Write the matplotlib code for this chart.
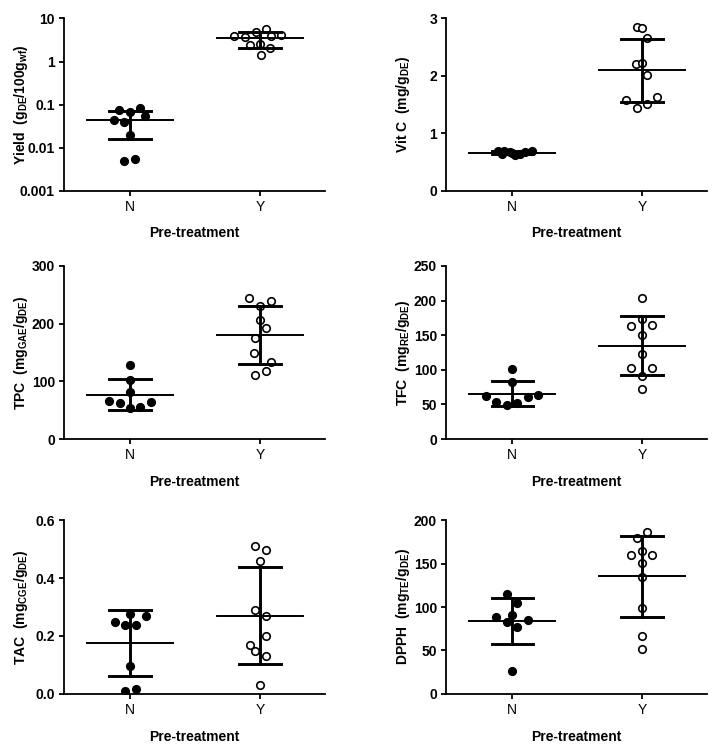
import matplotlib
matplotlib.use("Agg")
import matplotlib.pyplot as plt
from matplotlib.ticker import FixedLocator, FixedFormatter

plt.rcParams['font.family'] = ['Liberation Sans', 'DejaVu Sans']
plt.rcParams['mathtext.fontset'] = 'custom'
plt.rcParams['mathtext.rm'] = 'Liberation Sans'
plt.rcParams['mathtext.bf'] = 'Liberation Sans:bold'
plt.rcParams['mathtext.default'] = 'regular'

groups = ["N", "Y"]

# Yield (log axis)
yield_N = [0.0745, 0.083, 0.068, 0.0444, 0.039, 0.055, 0.0198, 0.0049, 0.0054]
yield_N_dx = [-0.083, 0.078, 0.0, -0.127, -0.047, 0.117, -0.005, -0.047, 0.036]
yield_Y = [3.95, 3.8, 4.9, 5.7, 3.95, 4.16, 2.48, 2.57, 2.07, 1.42]
yield_Y_dx = [-0.2, -0.117, -0.034, 0.047, 0.086, 0.164, -0.078, 0.0, 0.078, 0.005]
yield_mean = [0.0436, 3.48]
yield_lo = [0.016, 2.11]
yield_hi = [0.073, 4.8]

# Vit C
vitc_N = [0.70, 0.69, 0.67, 0.66, 0.62, 0.64, 0.68, 0.69, 0.65]
vitc_N_dx = [-0.11, -0.06, -0.02, 0.0, 0.02, 0.06, 0.1, 0.15, -0.08]
vitc_Y = [2.85, 2.84, 2.66, 2.2, 2.22, 2.02, 1.58, 1.63, 1.45, 1.52]
vitc_Y_dx = [-0.036, 0.0, 0.041, -0.044, 0.0, 0.041, -0.126, 0.115, -0.041, 0.041]
vitc_mean = [0.66, 2.1]
vitc_lo = [0.635, 1.55]
vitc_hi = [0.69, 2.64]

# TPC
tpc_N = [128.7, 102.1, 80.8, 66.3, 62.9, 64.0, 56.0, 53.1]
tpc_N_dx = [0.0, 0.0, 0.0, -0.162, -0.082, 0.159, 0.077, 0.0]
tpc_Y = [244.6, 238.8, 230.8, 207.1, 193.3, 176.0, 148.3, 133.3, 111.3, 118.3]
tpc_Y_dx = [-0.082, 0.082, 0.0, 0.0, 0.044, -0.038, -0.044, 0.082, -0.038, 0.044]
tpc_mean = [76.7, 180.0]
tpc_lo = [50.2, 129.8]
tpc_hi = [103.3, 230.8]

# TFC
tfc_N = [100.5, 82.2, 61.5, 53.8, 48.6, 52.4, 60.6, 63.0]
tfc_N_dx = [0.0, 0.0, -0.2, -0.126, -0.044, 0.038, 0.118, 0.197]
tfc_Y = [204.3, 173.1, 163.9, 164.9, 150.0, 123.1, 102.4, 102.4, 90.9, 71.6]
tfc_Y_dx = [0.0, 0.0, -0.082, 0.079, 0.0, 0.0, -0.082, 0.079, 0.0, 0.0]
tfc_mean = [65.4, 134.6]
tfc_lo = [48.1, 91.8]
tfc_hi = [83.2, 177.4]

# TAC
tac_N = [0.2775, 0.2695, 0.2488, 0.2384, 0.2384, 0.0979, 0.0184, 0.0092]
tac_N_dx = [0.0, 0.121, -0.121, -0.041, 0.041, 0.0, 0.041, -0.041]
tac_Y = [0.509, 0.4975, 0.458, 0.289, 0.268, 0.199, 0.169, 0.1486, 0.130, 0.030]
tac_Y_dx = [-0.038, 0.044, 0.0, -0.038, 0.044, 0.044, -0.079, -0.038, 0.044, 0.0]
tac_mean = [0.176, 0.2706]
tac_lo = [0.062, 0.1025]
tac_hi = [0.290, 0.4376]

# DPPH
dpph_N = [115.2, 104.8, 88.3, 90.6, 82.5, 77.5, 84.5, 26.1]
dpph_N_dx = [-0.044, 0.038, -0.126, 0.0, -0.044, 0.038, 0.118, 0.0]
dpph_Y = [186.2, 178.9, 164.7, 160.1, 159.3, 150.1, 134.0, 98.3, 66.8, 52.2]
dpph_Y_dx = [0.041, -0.041, 0.0, -0.082, 0.079, 0.0, 0.0, 0.0, 0.0, 0.0]
dpph_mean = [83.7, 135.5]
dpph_lo = [57.2, 88.7]
dpph_hi = [110.2, 182.0]

panels = [
    (yield_N, yield_N_dx, yield_Y, yield_Y_dx, yield_mean, yield_lo, yield_hi,
     r"Yield  (g$_{DE}$/100g$_{wf}$)", [0.001, 0.01, 0.1, 1, 10],
     ["0.001", "0.01", "0.1", "1", "10"], True),
    (vitc_N, vitc_N_dx, vitc_Y, vitc_Y_dx, vitc_mean, vitc_lo, vitc_hi,
     r"Vit C  (mg/g$_{DE}$)", [0, 1, 2, 3], ["0", "1", "2", "3"], False),
    (tpc_N, tpc_N_dx, tpc_Y, tpc_Y_dx, tpc_mean, tpc_lo, tpc_hi,
     r"TPC  (mg$_{GAE}$/g$_{DE}$)", [0, 100, 200, 300], ["0", "100", "200", "300"], False),
    (tfc_N, tfc_N_dx, tfc_Y, tfc_Y_dx, tfc_mean, tfc_lo, tfc_hi,
     r"TFC  (mg$_{RE}$/g$_{DE}$)", [0, 50, 100, 150, 200, 250],
     ["0", "50", "100", "150", "200", "250"], False),
    (tac_N, tac_N_dx, tac_Y, tac_Y_dx, tac_mean, tac_lo, tac_hi,
     r"TAC  (mg$_{CGE}$/g$_{DE}$)", [0, 0.2, 0.4, 0.6], ["0.0", "0.2", "0.4", "0.6"], False),
    (dpph_N, dpph_N_dx, dpph_Y, dpph_Y_dx, dpph_mean, dpph_lo, dpph_hi,
     r"DPPH  (mg$_{TE}$/g$_{DE}$)", [0, 50, 100, 150, 200],
     ["0", "50", "100", "150", "200"], False),
]

fig = plt.figure(figsize=(7.16, 7.48), dpi=100)
lefts = [0.0894, 0.623]
bottoms = [0.7447, 0.4131, 0.0722]
heights = [0.2306, 0.2313, 0.2326]

for i, (yn, dxn, yy, dxy, mean, lo, hi, ylab, yt, ytl, logy) in enumerate(panels):
    r, c = divmod(i, 2)
    ax = fig.add_axes([lefts[c], bottoms[r], 0.3645, heights[r]])
    if logy:
        ax.set_yscale('log')
    ax.plot([0 + d for d in dxn], yn, 'o', ms=5.6, mfc='black', mec='black', mew=1, zorder=2)
    ax.plot([1 + d for d in dxy], yy, 'o', ms=5.4, mfc='white', mec='black', mew=1.2, zorder=2)
    for g in range(2):
        ax.plot([g - 0.33, g + 0.33], [mean[g], mean[g]], color='black', lw=1.4, zorder=3)
        ax.plot([g, g], [lo[g], hi[g]], color='black', lw=2.1, zorder=3)
        ax.plot([g - 0.16, g + 0.16], [lo[g], lo[g]], color='black', lw=2.1, zorder=3)
        ax.plot([g - 0.16, g + 0.16], [hi[g], hi[g]], color='black', lw=2.1, zorder=3)
    ax.set_xlim(-0.51, 1.5)
    ax.set_ylim(yt[0], yt[-1])
    ax.yaxis.set_major_locator(FixedLocator(yt))
    ax.yaxis.set_major_formatter(FixedFormatter(ytl))
    ax.yaxis.set_minor_locator(FixedLocator([]))
    ax.set_xticks([0, 1])
    ax.set_xticklabels(groups, fontsize=10)
    for t in ax.get_yticklabels():
        t.set_fontsize(10)
        t.set_fontweight('bold')
    ax.spines['top'].set_visible(False)
    ax.spines['right'].set_visible(False)
    ax.spines['left'].set_linewidth(1.3)
    ax.spines['bottom'].set_linewidth(1.3)
    ax.tick_params(axis='both', width=1.3, length=3.5, pad=3)
    ax.set_xlabel("Pre-treatment", fontsize=10, fontweight='bold', labelpad=9)
    ax.set_ylabel(ylab, fontsize=10, fontweight='bold')
    ax.yaxis.set_label_coords(-0.132, 0.5)

fig.savefig("out.png", dpi=100)
